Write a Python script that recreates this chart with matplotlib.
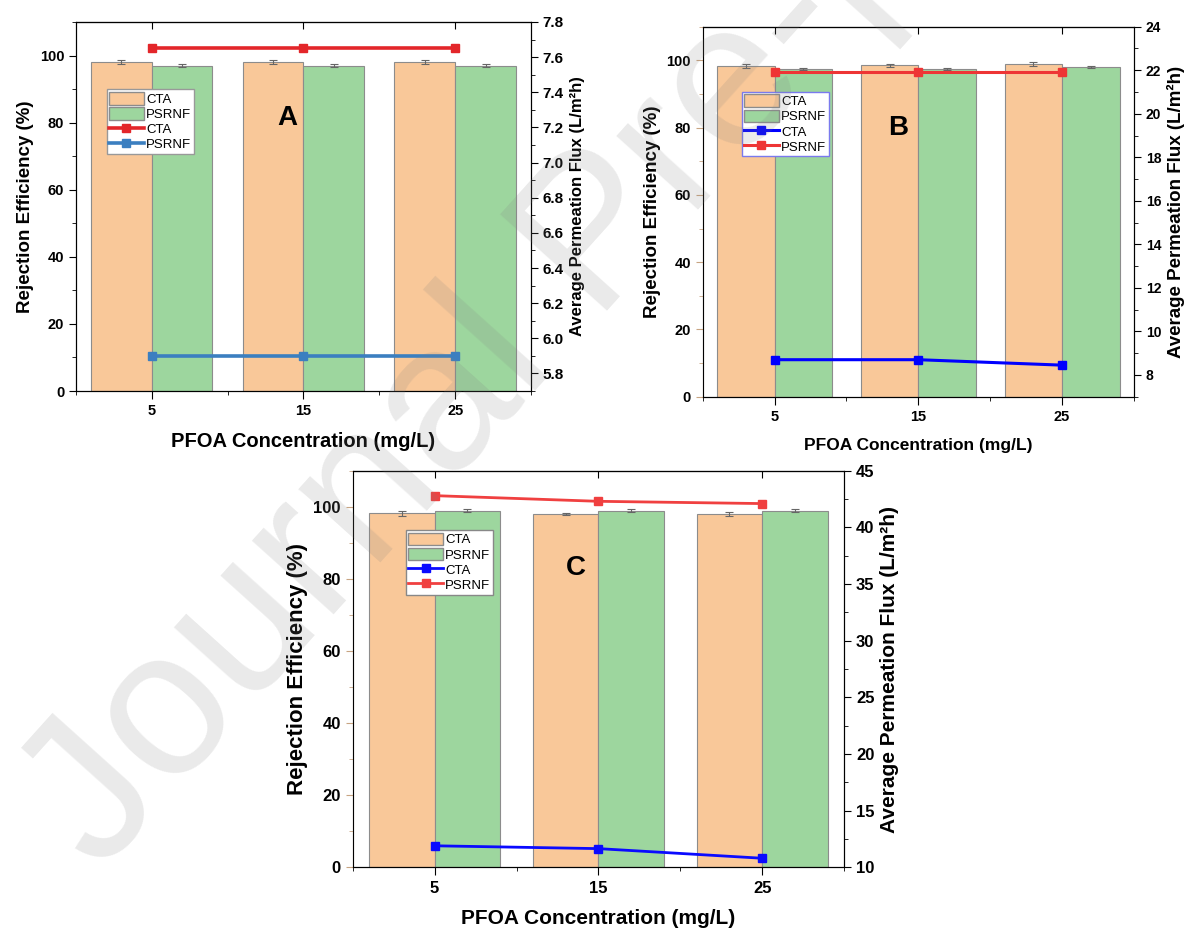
import numpy as np
import matplotlib
matplotlib.use('Agg')
import matplotlib.pyplot as plt
from matplotlib.patches import Patch
from matplotlib.lines import Line2D
from matplotlib.ticker import MultipleLocator

plt.rcParams['font.family'] = ['Liberation Sans', 'DejaVu Sans']

# =============================================================================
# data
# =============================================================================
conc = [5, 15, 25]

# panel A
rej_cta_A = [98.0, 98.0, 98.0]
rej_psrnf_A = [97.0, 97.0, 97.0]
err_cta_A = [0.6, 0.6, 0.6]
err_psrnf_A = [0.5, 0.5, 0.5]
flux_cta_A = [7.65, 7.65, 7.65]
flux_psrnf_A = [5.90, 5.90, 5.90]

# panel B
rej_cta_B = [98.2, 98.5, 98.9]
rej_psrnf_B = [97.4, 97.5, 98.0]
err_cta_B = [0.6, 0.5, 0.6]
err_psrnf_B = [0.4, 0.3, 0.4]
flux_cta_B = [8.70, 8.70, 8.45]
flux_psrnf_B = [21.9, 21.9, 21.9]

# panel C
rej_cta_C = [98.2, 98.0, 98.0]
rej_psrnf_C = [98.9, 98.9, 98.9]
err_cta_C = [0.7, 0.4, 0.5]
err_psrnf_C = [0.4, 0.4, 0.4]
flux_cta_C = [11.9, 11.65, 10.8]
flux_psrnf_C = [42.8, 42.3, 42.1]

c_cta_bar = '#f9c899'
c_psrnf_bar = '#9dd69e'


def panel(rect, rej_cta, rej_psrnf, err_cta, err_psrnf, flux_cta, flux_psrnf,
          ylim2, major2, minor2, c_cta, c_psrnf, lw_line, letter, letter_pos,
          leg_pos, leg_edge, fs_tick, fs_tick2, fs_lab, fs_lab2, fs_xlab,
          left_col='black'):
    ax = fig.add_axes(rect)
    x = np.array(conc)
    ax.bar(x - 2, rej_cta, width=4, color=c_cta_bar, edgecolor='#8c8c8c',
           linewidth=0.8, zorder=2)
    ax.bar(x + 2, rej_psrnf, width=4, color=c_psrnf_bar, edgecolor='#8c8c8c',
           linewidth=0.8, zorder=2)
    ax.errorbar(x - 2, rej_cta, yerr=err_cta, fmt='none', ecolor='#666666',
                elinewidth=0.8, capsize=3, capthick=0.8, zorder=3)
    ax.errorbar(x + 2, rej_psrnf, yerr=err_psrnf, fmt='none', ecolor='#666666',
                elinewidth=0.8, capsize=3, capthick=0.8, zorder=3)
    ax.set_xlim(0, 30)
    ax.set_ylim(0, 110)
    ax.set_xticks(conc)
    ax.xaxis.set_minor_locator(MultipleLocator(5))
    ax.yaxis.set_minor_locator(MultipleLocator(10))
    ax.set_yticks([0, 20, 40, 60, 80, 100])
    ax.tick_params(axis='x', which='major', direction='out', length=6,
                   labelsize=fs_tick)
    ax.tick_params(axis='x', which='minor', direction='out', length=3)
    ax.tick_params(axis='y', which='major', direction='out', length=5,
                   labelsize=fs_tick, color=left_col)
    ax.tick_params(axis='y', which='minor', direction='out', length=3,
                   color=left_col)
    ax.spines['left'].set_color(left_col)
    for lab in ax.get_xticklabels() + ax.get_yticklabels():
        lab.set_fontweight('bold')
    ax.set_ylabel('Rejection Efficiency (%)', fontsize=fs_lab,
                  fontweight='bold', labelpad=4)
    ax.set_xlabel('PFOA Concentration (mg/L)', fontsize=fs_xlab,
                  fontweight='bold', labelpad=10)

    # inward ticks on the top frame
    top = ax.secondary_xaxis('top')
    top.set_xticks(conc)
    top.tick_params(direction='in', length=5, labeltop=False)

    ax2 = ax.twinx()
    ax2.plot(x, flux_cta, color=c_cta, lw=lw_line, marker='s', ms=6)
    ax2.plot(x, flux_psrnf, color=c_psrnf, lw=lw_line, marker='s', ms=6)
    ax2.set_ylim(*ylim2)
    ax2.yaxis.set_major_locator(MultipleLocator(major2))
    ax2.yaxis.set_minor_locator(MultipleLocator(minor2))
    ax2.tick_params(axis='y', which='major', direction='out', length=5,
                    labelsize=fs_tick2)
    ax2.tick_params(axis='y', which='minor', direction='out', length=3)
    for lab in ax2.get_yticklabels():
        lab.set_fontweight('bold')
    ax2.set_ylabel('Average Permeation Flux (L/m²h)', fontsize=fs_lab2,
                   fontweight='bold', labelpad=4)

    handles = [Patch(facecolor=c_cta_bar, edgecolor='#8c8c8c', label='CTA'),
               Patch(facecolor=c_psrnf_bar, edgecolor='#8c8c8c', label='PSRNF'),
               Line2D([], [], color=c_cta, lw=lw_line, marker='s', ms=6, label='CTA'),
               Line2D([], [], color=c_psrnf, lw=lw_line, marker='s', ms=6, label='PSRNF')]
    leg = ax2.legend(handles=handles, loc='upper left', bbox_to_anchor=leg_pos,
                     borderaxespad=0, fontsize=9.5, fancybox=False,
                     handlelength=2.6, handleheight=1.1, labelspacing=0.1,
                     borderpad=0.2, handletextpad=0.2, framealpha=1)
    leg.get_frame().set_edgecolor(leg_edge)
    leg.get_frame().set_linewidth(1.0)

    ax2.text(letter_pos[0], letter_pos[1], letter, transform=ax2.transAxes,
             fontsize=20, fontweight='bold', ha='center', va='center')
    return ax, ax2


fig = plt.figure(figsize=(11.89, 9.31), dpi=100)

panel([0.0639, 0.580, 0.3827, 0.3964], rej_cta_A, rej_psrnf_A, err_cta_A,
      err_psrnf_A, flux_cta_A, flux_psrnf_A, (5.7, 7.8), 0.2, 0.1,
      '#e3262a', '#3b7fc0', 2.6, 'A', (0.464, 0.74), (0.0675, 0.8176),
      '#999999', 10.5, 11, 13.5, 12, 14.5)

panel([0.591, 0.5739, 0.3627, 0.3974], rej_cta_B, rej_psrnf_B, err_cta_B,
      err_psrnf_B, flux_cta_B, flux_psrnf_B, (7, 24), 2, 1,
      '#0000ff', '#ee3535', 2.2, 'B', (0.453, 0.726), (0.0904, 0.824),
      '#7a7aee', 10.5, 10, 13.5, 13.5, 12.5, left_col='#c8a482')

panel([0.2966, 0.0684, 0.4134, 0.426], rej_cta_C, rej_psrnf_C, err_cta_C,
      err_psrnf_C, flux_cta_C, flux_psrnf_C, (10, 45), 5, 2.5,
      '#0a0aff', '#f04040', 2.0, 'C', (0.454, 0.755), (0.108, 0.8505),
      '#888888', 12, 12, 16, 15, 15, left_col='#c8a482')

# page watermark
fig.text(-0.01, 0.03, 'Journal Pre-proof', fontsize=150, color='#808080',
         alpha=0.17, rotation=48, ha='left', va='bottom', zorder=10,
         family='Liberation Sans')

plt.savefig('out.png', dpi=100)
